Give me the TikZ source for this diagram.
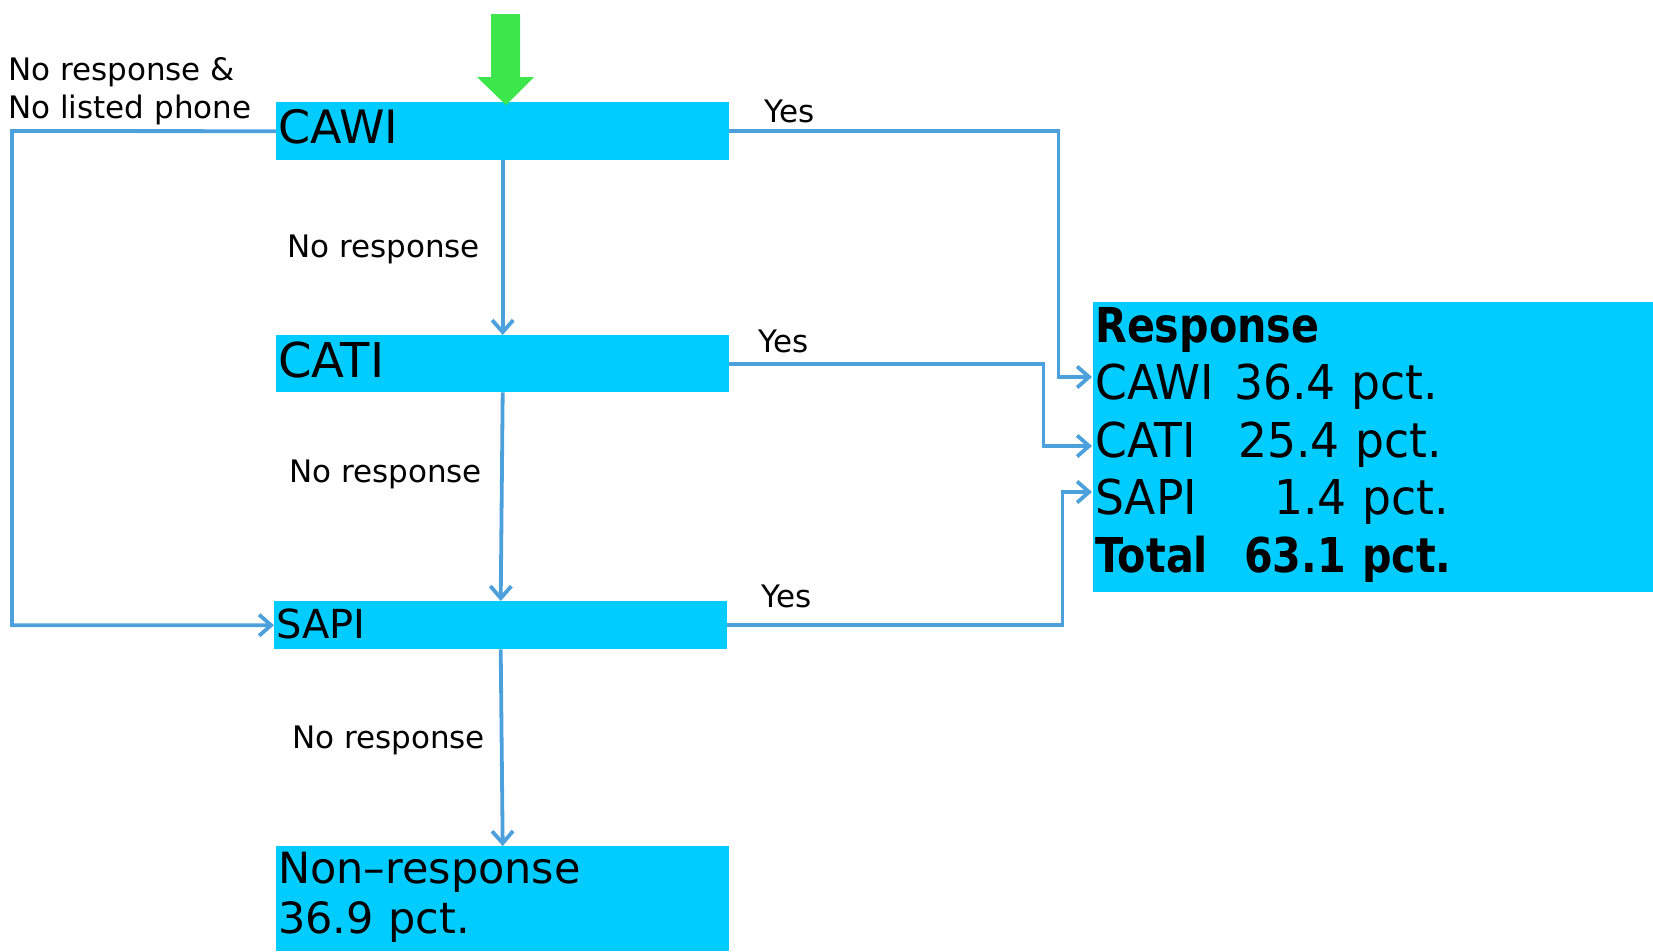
\documentclass[tikz,border=0pt]{standalone}
\usepackage{fontspec}
\setmainfont{DejaVu Sans}
\newfontfamily\condfam[FakeStretch=0.86]{DejaVu Sans}
\newfontfamily\respfam[FakeStretch=0.95]{DejaVu Sans}
\usetikzlibrary{arrows.meta}
\definecolor{boxcyan}{RGB}{0,204,255}
\definecolor{linkblue}{RGB}{76,160,220}
\definecolor{startgreen}{RGB}{60,230,75}
\begin{document}
\begin{tikzpicture}[x=1pt,y=-1pt,
  procbox/.style={fill=boxcyan, anchor=north west, inner xsep=2pt, inner ysep=0pt,
    align=left, text width=#1},
  lab/.style={anchor=base west, inner sep=0pt, align=left, font=\fontsize{31}{38}\selectfont},
  conn/.style={draw=linkblue, line width=3.8pt, -{Straight Barb[length=12pt,width=21pt]}}]
\useasboundingbox (0,0) rectangle (1653,951);

% boxes
\node[procbox=449pt, minimum height=58pt, text height=41pt, text depth=17pt,
  font=\fontsize{46}{50}\selectfont] (cawi) at (276,102) {CAWI};
\node[procbox=449pt, minimum height=57pt, text height=42pt, text depth=15pt,
  font=\fontsize{48}{50}\selectfont] (cati) at (276,335) {CATI};
\node[procbox=449pt, minimum height=48pt, text height=37pt, text depth=11pt,
  font=\fontsize{40}{44}\selectfont] (sapi) at (274,601) {SAPI};
\node[procbox=449pt, minimum height=105pt, text height=37pt, text depth=68pt,
  font=\fontsize{43}{50}\selectfont] (nonresp) at (276,846) {Non–response\\36.9 pct.};
\node[procbox=556pt, minimum height=290pt, text height=40pt, text depth=250pt,
  font=\fontsize{48}{57.5}\selectfont\respfam] (resp) at (1093,302)
  {{\condfam\bfseries Response}\\
   \makebox[139pt][l]{CAWI}36.4 pct.\\
   \makebox[143pt][l]{CATI}25.4 pct.\\
   \makebox[179pt][l]{SAPI}1.4 pct.\\
   {\condfam\bfseries\makebox[149pt][l]{Total}63.1 pct.}};

% start arrow
\fill[startgreen] (491,14) -- (520,14) -- (520,77) -- (534,77) -- (506,105)
  -- (477,77) -- (491,77) -- cycle;

% labels
\node[lab] (lnolist) at (8,118) {No response \&\\No listed phone};
\node[lab] (lnr1) at (287,257) {No response};
\node[lab] (lnr2) at (289,482) {No response};
\node[lab] (lnr3) at (292,748) {No response};
\node[lab] (lyes1) at (764,122) {Yes};
\node[lab] (lyes2) at (758,352) {Yes};
\node[lab] (lyes3) at (761,607) {Yes};

% connector points
\coordinate (lc1) at (12,131);
\coordinate (rcawi) at (1092,377);
\coordinate (rcati) at (1092,446);
\coordinate (rsapi) at (1092,492);

% connectors
\draw[conn] (cawi.south) -- (cati.north);
\draw[conn] (cati.south) -- (sapi.north);
\draw[conn] (sapi.south) -- (nonresp.north);
\draw[conn] (cawi.west) -- (lc1) |- (sapi.west);
\draw[conn] (cawi.east) -- ++(329,0) |- (rcawi);
\draw[conn] (cati.east) -- ++(314,0) |- (rcati);
\draw[conn] (sapi.east) -- ++(335,0) |- (rsapi);
\end{tikzpicture}
\end{document}
